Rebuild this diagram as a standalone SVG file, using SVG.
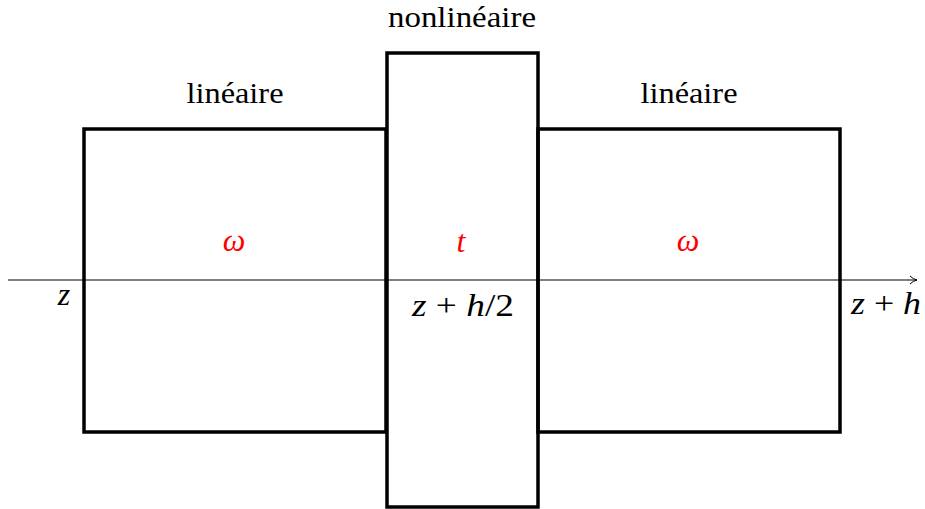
<svg xmlns="http://www.w3.org/2000/svg" width="925" height="509" viewBox="0 0 925 509">
<defs>
<marker id="ah" markerWidth="10" markerHeight="10" refX="9" refY="5" orient="auto" markerUnits="userSpaceOnUse">
<path d="M2,1 Q5,4 9,5 Q5,6 2,9" fill="none" stroke="#000" stroke-width="1"/>
</marker>
</defs>
<g id="connectors">
<line x1="8" y1="280" x2="917" y2="280" stroke="#000" stroke-width="1" marker-end="url(#ah)"/>
</g>
<g id="left">
<rect x="84" y="129" width="302" height="303" fill="none" stroke="#000" stroke-width="3.5"/>
<text x="235" y="103" font-family="Liberation Serif, serif" text-anchor="middle" font-size="30" textLength="97" lengthAdjust="spacingAndGlyphs">linéaire</text>
<text x="234" y="251" font-family="Liberation Serif, serif" text-anchor="middle" font-size="32" font-style="italic" fill="#ff0000">ω</text>
</g>
<g id="middle">
<rect x="387" y="53" width="151" height="454" fill="none" stroke="#000" stroke-width="3.5"/>
<text x="462" y="27" font-family="Liberation Serif, serif" text-anchor="middle" font-size="30" textLength="148" lengthAdjust="spacingAndGlyphs">nonlinéaire</text>
<text x="461" y="252" font-family="Liberation Serif, serif" text-anchor="middle" font-size="32" font-style="italic" fill="#ff0000">t</text>
</g>
<g id="right">
<rect x="538" y="129" width="302" height="303" fill="none" stroke="#000" stroke-width="3.5"/>
<text x="689" y="103" font-family="Liberation Serif, serif" text-anchor="middle" font-size="30" textLength="97" lengthAdjust="spacingAndGlyphs">linéaire</text>
<text x="688" y="251" font-family="Liberation Serif, serif" text-anchor="middle" font-size="32" font-style="italic" fill="#ff0000">ω</text>
</g>
<g id="axis-labels">
<text x="64" y="305" font-family="Liberation Serif, serif" text-anchor="middle" font-size="32" font-style="italic">z</text>
<text x="463" y="316" font-family="Liberation Serif, serif" text-anchor="middle" font-size="32" textLength="102" lengthAdjust="spacingAndGlyphs"><tspan font-style="italic">z</tspan> + <tspan font-style="italic">h</tspan>/2</text>
<text x="886" y="314" font-family="Liberation Serif, serif" text-anchor="middle" font-size="32" textLength="70" lengthAdjust="spacingAndGlyphs"><tspan font-style="italic">z</tspan> + <tspan font-style="italic">h</tspan></text>
</g>
</svg>
